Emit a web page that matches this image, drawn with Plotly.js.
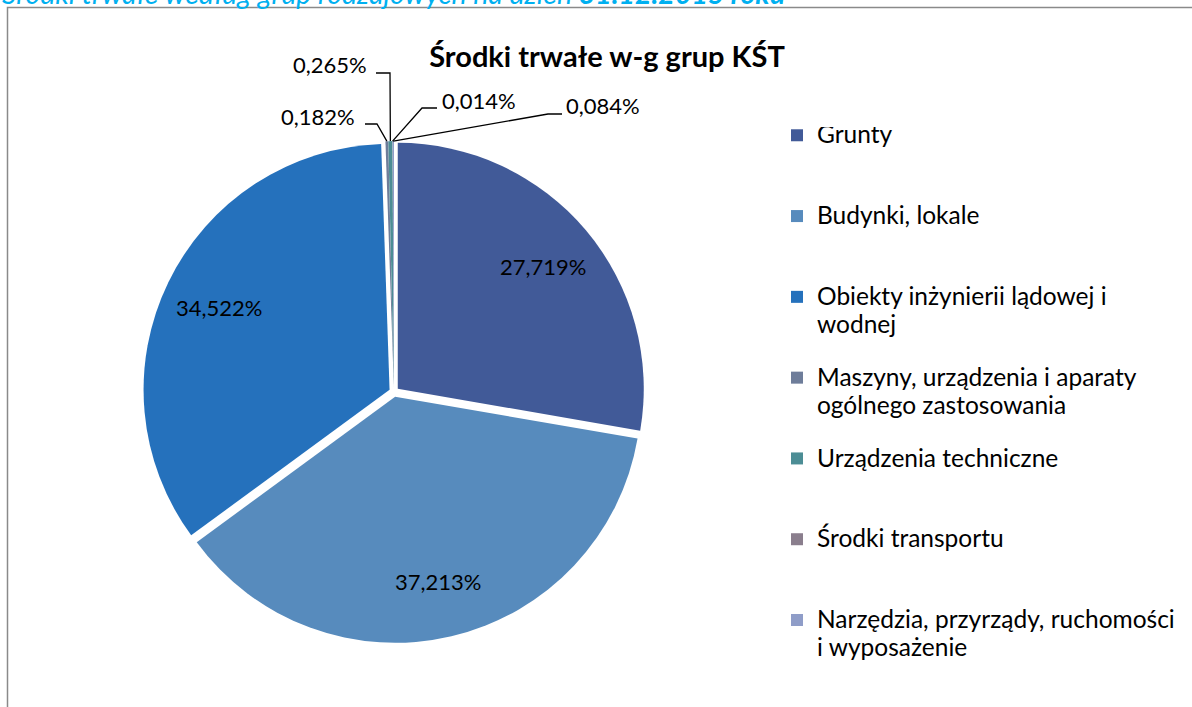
<!DOCTYPE html>
<html><head><meta charset="utf-8">
<script src="https://cdn.plot.ly/plotly-3.0.1.min.js"></script>
<style>html,body{margin:0;padding:0;background:#fff;overflow:hidden}</style>
</head><body>
<div id="chart" style="width:1192px;height:707px"></div>
<script>
// ---- data ----
const categories = [
  "Grunty",
  "Budynki, lokale",
  "Obiekty inżynierii lądowej i<br>wodnej",
  "Maszyny, urządzenia i aparaty<br>ogólnego zastosowania",
  "Urządzenia techniczne",
  "Środki transportu",
  "Narzędzia, przyrządy, ruchomości<br>i wyposażenie"
];
const values = [27.719, 37.213, 34.522, 0.182, 0.265, 0.014, 0.084];
const colors = ["#415A98", "#578BBD", "#2571BC", "#6E7D9A", "#4C8D95", "#8A7E8D", "#8F9DC8"];
const chartTitle = "Środki trwałe w-g grup KŚT";
const pageHeading = "Środki trwałe według grup rodzajowych na dzień <b>31.12.2015 roku</b>";

// ---- layout geometry (pixels) ----
const W = 1192, H = 707;
const CX = 394, CY = 392, R = 246, PULL = 0.02;
const FONT = "Lato, 'Open Sans', sans-serif";
const fx = x => x / W;
const fy = y => 1 - y / H;
// outside label placements for the tiny slices (text centre, elbow, line end near text)
const smallLabelLayout = {
  3: {tx: 318, ty: 116, ex: 377, ey: 124, lx: 365, ly: 124},
  4: {tx: 330, ty: 64,  ex: 390, ey: 73,  lx: 376, ly: 73},
  5: {tx: 479, ty: 100, ex: 422, ey: 108, lx: 437, ly: 108},
  6: {tx: 603, ty: 106, ex: 548, ey: 114, lx: 562, ly: 114}
};

const fmt = v => v.toFixed(3).replace('.', ',') + '%';
const total = values.reduce((a, b) => a + b, 0);

const annotations = [];
const shapes = [];
let cum = 0;
values.forEach((v, i) => {
  const mid = (cum + v / 2) / total * 2 * Math.PI;
  cum += v;
  const s = Math.sin(mid), c = Math.cos(mid);
  if (v >= 5) {
    const d = R * 0.77 + R * PULL;
    annotations.push({
      xref: 'paper', yref: 'paper', x: fx(CX + d * s), y: fy(CY - d * c),
      xanchor: 'center', yanchor: 'middle', showarrow: false,
      text: fmt(v), font: {family: FONT, size: 22, color: '#000'}
    });
  } else {
    const L = smallLabelLayout[i];
    const d = R * (1 + PULL);
    const px = CX + d * s, py = CY - d * c;
    shapes.push({
      type: 'path', xref: 'paper', yref: 'paper',
      path: `M${fx(px)},${fy(py)} L${fx(L.ex)},${fy(L.ey)} L${fx(L.lx)},${fy(L.ly)}`,
      line: {color: '#000', width: 1.3}
    });
    annotations.push({
      xref: 'paper', yref: 'paper', x: fx(L.tx), y: fy(L.ty),
      xanchor: 'center', yanchor: 'middle', showarrow: false,
      text: fmt(v), font: {family: FONT, size: 22, color: '#000'}
    });
  }
});

// page heading (cut off at the top, as in the source)
annotations.push({
  xref: 'paper', yref: 'paper', x: 0, y: fy(12), xanchor: 'left', yanchor: 'bottom',
  showarrow: false, text: '<i>' + pageHeading + '</i>',
  font: {family: FONT, size: 28.5, color: '#00B0F0'}
});

// frame
shapes.push({
  type: 'rect', xref: 'paper', yref: 'paper',
  x0: fx(7.5), x1: 1.02, y0: -0.02, y1: fy(7.5),
  line: {color: '#8A8A8A', width: 1.5}, fillcolor: 'rgba(0,0,0,0)'
});

// legend entries: fine-grained line grid so that entries sit ~81px apart
// and the wrapped lines of an entry ~28px apart
const LEG_STEP_FONT = 2.72;      // legend line grid font size (line height = 1.3 * size)
const LEG_LINES = 22;            // grid lines per entry
const LEG_FIRST = 2, LEG_WRAP = 8;
const legendLabels = categories.map(cat => {
  const lines = new Array(LEG_LINES).fill(' ');
  cat.split('<br>').forEach((t, k) => {
    lines[LEG_FIRST + k * LEG_WRAP] = '<span style="font-size:24.5px">' + t + '</span>';
  });
  return lines.join('<br>');
});

const half = R * (1 + PULL);
const trace = {
  type: 'pie',
  labels: legendLabels,
  values: values,
  sort: false,
  direction: 'clockwise',
  rotation: 0,
  pull: PULL,
  textinfo: 'none',
  marker: {colors: colors, line: {width: 0, color: '#fff'}},
  domain: {x: [fx(CX - half), fx(CX + half)], y: [fy(CY + half), fy(CY - half)]},
  hoverinfo: 'skip'
};

const layout = {
  width: W, height: H, autosize: false,
  margin: {l: 0, r: 0, t: 0, b: 0, pad: 0},
  paper_bgcolor: '#fff', plot_bgcolor: '#fff',
  separators: ', ',
  title: {
    text: '<b>' + chartTitle + '</b>', x: fx(607), xanchor: 'center', xref: 'paper',
    y: fy(57), yanchor: 'middle', yref: 'paper',
    font: {family: FONT, size: 29, color: '#000'}
  },
  showlegend: true,
  legend: {
    x: fx(777), xanchor: 'left', y: fy(127), yanchor: 'top',
    valign: 'top', font: {family: FONT, size: LEG_STEP_FONT, color: '#000'},
    bgcolor: 'rgba(0,0,0,0)', borderwidth: 0, traceorder: 'normal'
  },
  annotations: annotations,
  shapes: shapes
};

Plotly.newPlot('chart', [trace], layout, {displayModeBar: false, staticPlot: true});
</script>
</body></html>
